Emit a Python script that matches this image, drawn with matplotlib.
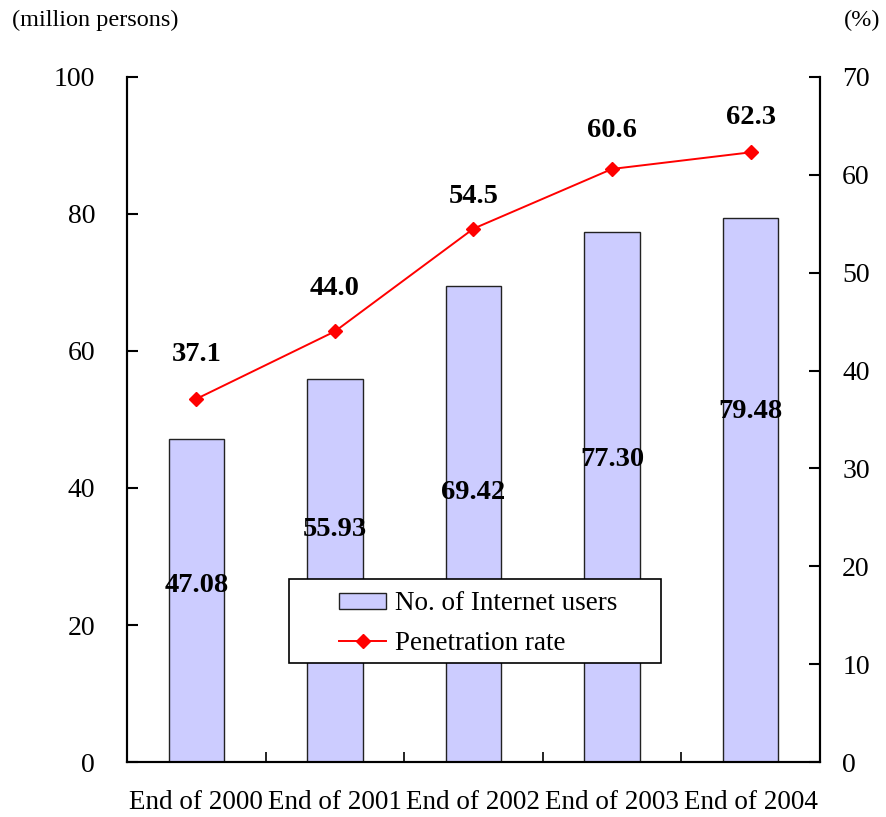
import numpy as np
import matplotlib.pyplot as plt
from matplotlib.patches import Rectangle
from matplotlib.ticker import FixedLocator, NullFormatter

plt.rcParams['font.family'] = ['Liberation Serif', 'DejaVu Serif']

# Internet users and penetration rate by year end
periods = ['End of 2000', 'End of 2001', 'End of 2002', 'End of 2003', 'End of 2004']
users = [47.08, 55.93, 69.42, 77.30, 79.48]       # million persons
penetration = [37.1, 44.0, 54.5, 60.6, 62.3]      # %

# where the bar value labels sit (left axis units) and how far rate labels rise (px)
user_label_y = [25.8, 33.9, 39.4, 44.1, 51.1]
rate_label_dy = [44, 43, 32, 38, 35]

x = np.arange(len(periods))

fig = plt.figure(figsize=(8.86, 8.17), dpi=100)
ax = fig.add_axes([0.1433, 0.0673, 0.7822, 0.8385])
ax2 = ax.twinx()

bars = ax.bar(x, users, width=0.4, color='#CCCCFF', edgecolor='#222222',
              linewidth=1.0, label='No. of Internet users', zorder=2)
line, = ax2.plot(x, penetration, color='red', lw=1.4, marker='D', ms=7,
                 label='Penetration rate', zorder=3)

ax.set_xlim(-0.5, len(periods) - 0.5)
ax.set_ylim(0, 100)
ax2.set_ylim(0, 70)
ax.set_yticks(np.arange(0, 101, 20))
ax2.set_yticks(np.arange(0, 71, 10))

ax.set_xticks(x)
ax.set_xticklabels(periods, fontsize=19.5)
ax.xaxis.set_minor_locator(FixedLocator(np.arange(-0.5, len(periods), 1.0)))
ax.xaxis.set_minor_formatter(NullFormatter())
ax.tick_params(axis='x', which='major', length=0, pad=20)
ax.tick_params(axis='x', which='minor', direction='in', length=7, width=1.2)
ax.tick_params(axis='y', direction='in', length=8, width=1.5, labelsize=20, pad=23)
ax2.tick_params(axis='y', direction='in', length=8, width=1.5, labelsize=20, pad=16)

for a in (ax, ax2):
    a.spines['top'].set_visible(False)
    for s in ('left', 'right', 'bottom'):
        a.spines[s].set_linewidth(1.5)

for xi, v, ly in zip(x, users, user_label_y):
    ax.text(xi, ly, f'{v:.2f}', ha='center', va='center', fontsize=20.5,
            fontweight='bold', zorder=5)

for xi, v, dy in zip(x, penetration, rate_label_dy):
    ax2.annotate(f'{v:.1f}', (xi, v), xytext=(0, dy * 0.72), textcoords='offset points',
                 ha='center', va='center', fontsize=20.5, fontweight='bold')

fig.text(12 / 886, 1 - 20 / 817, '(million persons)', ha='left', va='center', fontsize=17.5)
fig.text(880 / 886, 1 - 20 / 817, '(%)', ha='right', va='center', fontsize=17.5)

# legend box with the entries centred inside it
box = (0.234, 0.1445, 0.537, 0.1225)
frame = Rectangle(box[:2], box[2], box[3], transform=ax2.transAxes, facecolor='white',
                  edgecolor='black', linewidth=1.2, zorder=9)
ax2.add_patch(frame)
leg = ax2.legend([bars, line], ['No. of Internet users', 'Penetration rate'],
                 loc='center', bbox_to_anchor=(box[0] + box[2] / 2 + 0.004, box[1] + box[3] / 2 - 0.004),
                 fontsize=19.5, frameon=False, handlelength=1.75, handleheight=0.55,
                 handletextpad=0.3, labelspacing=0.55, borderpad=0, borderaxespad=0)
leg.set_zorder(10)

fig.savefig('out.png', dpi=100)
